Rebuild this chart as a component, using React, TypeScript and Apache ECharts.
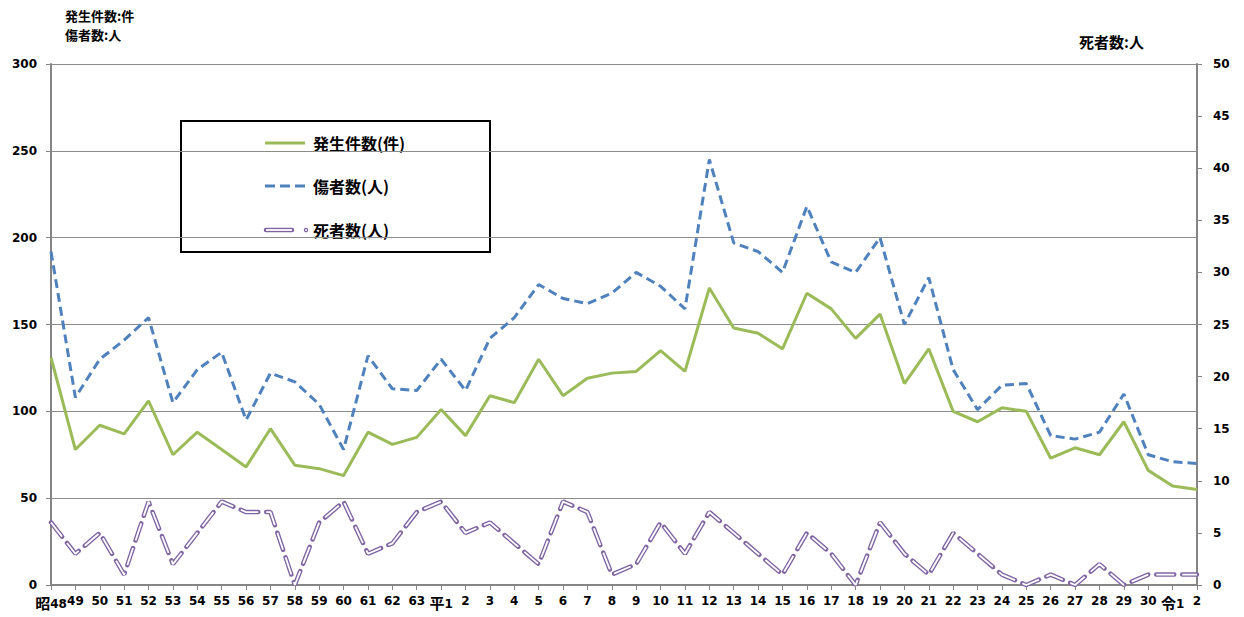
import React, { useEffect, useRef } from "react";
import * as echarts from "echarts";

const categories = [
  "昭48", "49", "50", "51", "52", "53", "54", "55", "56", "57", "58", "59", "60", "61", "62", "63",
  "平1", "2", "3", "4", "5", "6", "7", "8", "9", "10", "11", "12", "13", "14", "15", "16", "17", "18", "19", "20",
  "21", "22", "23", "24", "25", "26", "27", "28", "29", "30", "令1", "2",
];

const incidents = [
  131, 78, 92, 87, 106, 75, 88, 78, 68, 90, 69, 67, 63, 88, 81, 85,
  101, 86, 109, 105, 130, 109, 119, 122, 123, 135, 123, 171, 148, 145, 136, 168, 159, 142, 156, 116,
  136, 100, 94, 102, 100, 73, 79, 75, 94, 66, 57, 55,
];

const injured = [
  192, 108, 130, 141, 154, 105, 124, 134, 95, 122, 117, 104, 78, 132, 113, 112,
  130, 112, 142, 154, 173, 165, 162, 168, 180, 172, 159, 245, 197, 192, 180, 218, 186, 180, 200, 150,
  177, 124, 101, 115, 116, 86, 84, 88, 110, 75, 71, 70,
];

const deaths = [
  6, 3, 5, 1, 8, 2, 5, 8, 7, 7, 0, 6, 8, 3, 4, 7,
  8, 5, 6, 4, 2, 8, 7, 1, 2, 6, 3, 7, 5, 3, 1, 5, 3, 0, 6, 3,
  1, 5, 3, 1, 0, 1, 0, 2, 0, 1, 1, 1,
];

const leftTicks = { min: 0, max: 300, interval: 50 };
const rightTicks = { min: 0, max: 50, interval: 5 };

const seriesNames = ["発生件数(件)", "傷者数(人)", "死者数(人)"];
const unitTitles = ["発生件数:件", "傷者数:人", "死者数:人"];

const GREEN = "#9BBB59";
const BLUE = "#4F81BD";
const PURPLE = "#8064A2";
const FONT = "'DejaVu Sans', 'Noto Sans CJK JP', sans-serif";
const JFONT = "'Noto Sans CJK JP', sans-serif";

export default function App() {
  const ref = useRef<HTMLDivElement>(null);

  useEffect(() => {
    if (!ref.current) return;
    const chart = echarts.init(ref.current, undefined, { renderer: "svg" });
    const axisLabelBase = { color: "#000", fontWeight: "bold" as const, fontSize: 12, fontFamily: FONT };

    chart.setOption({
      animation: false,
      backgroundColor: "#fff",
      grid: { left: 51, right: 47, top: 64, bottom: 32, containLabel: false },
      xAxis: {
        type: "category",
        data: categories,
        boundaryGap: false,
        axisLine: { lineStyle: { color: "#868686", width: 2 } },
        axisTick: { show: true, length: 5, lineStyle: { color: "#868686", width: 1 } },
        axisLabel: {
          ...axisLabelBase,
          interval: 0,
          margin: 10,
          formatter: (v: string) => {
            const m = v.match(/^([^0-9]+)([0-9]+)$/);
            if (m) return `{k|${m[1]}}{n|${m[2]}}`;
            return v;
          },
          rich: {
            k: { fontFamily: JFONT, fontWeight: "bold", fontSize: 15, color: "#000", verticalAlign: "bottom" },
            n: { fontFamily: FONT, fontWeight: "bold", fontSize: 12, color: "#000", verticalAlign: "bottom" },
          },
        },
        splitLine: { show: false },
      },
      yAxis: [
        {
          type: "value",
          ...leftTicks,
          position: "left",
          axisLine: { show: true, lineStyle: { color: "#868686", width: 2 } },
          axisTick: { show: true, length: 5, lineStyle: { color: "#868686" } },
          axisLabel: { ...axisLabelBase, margin: 14 },
          splitLine: { show: true, lineStyle: { color: "#8c8c8c", width: 1 } },
        },
        {
          type: "value",
          ...rightTicks,
          position: "right",
          axisLine: { show: true, lineStyle: { color: "#868686", width: 2 } },
          axisTick: { show: true, length: 5, lineStyle: { color: "#868686" } },
          axisLabel: { ...axisLabelBase, margin: 16 },
          splitLine: { show: false },
        },
      ],
      series: [
        {
          name: seriesNames[0],
          type: "line",
          data: incidents,
          yAxisIndex: 0,
          symbol: "none",
          lineStyle: { color: GREEN, width: 3 },
          z: 3,
        },
        {
          name: seriesNames[1],
          type: "line",
          data: injured,
          yAxisIndex: 0,
          symbol: "none",
          lineStyle: { color: BLUE, width: 3, type: [9, 5] },
          z: 4,
        },
        {
          name: seriesNames[2],
          type: "line",
          data: deaths,
          yAxisIndex: 1,
          symbol: "none",
          lineStyle: { color: PURPLE, width: 4.5, type: [18, 8], cap: "round" },
          z: 5,
        },
        {
          name: seriesNames[2] + "_inner",
          type: "line",
          data: deaths,
          yAxisIndex: 1,
          symbol: "none",
          lineStyle: { color: "#fff", width: 1.8, type: [18, 8], cap: "butt" },
          z: 6,
        },
      ],
      graphic: [
        {
          type: "text",
          left: 65,
          top: 6,
          style: { text: unitTitles[0], font: `bold 13px ${JFONT}`, lineHeight: 19, fill: "#000" },
        },
        {
          type: "text",
          left: 65,
          top: 25,
          style: { text: unitTitles[1], font: `bold 13px ${JFONT}`, lineHeight: 19, fill: "#000" },
        },
        {
          type: "text",
          left: 1079,
          top: 32,
          style: { text: unitTitles[2], font: `bold 15px ${JFONT}`, lineHeight: 18, fill: "#000" },
        },
        {
          type: "group",
          z: 100,
          children: [
            {
              type: "rect",
              shape: { x: 181, y: 121, width: 309, height: 131 },
              style: { fill: "#fff", stroke: "#000", lineWidth: 2 },
            },
            {
              type: "line",
              shape: { x1: 265, y1: 143, x2: 305, y2: 143 },
              style: { stroke: GREEN, lineWidth: 3 },
            },
            {
              type: "text",
              x: 313,
              y: 143,
              style: { text: seriesNames[0], font: `bold 16px ${JFONT}`, fill: "#000", verticalAlign: "middle" },
            },
            {
              type: "line",
              shape: { x1: 265, y1: 186, x2: 305, y2: 186 },
              style: { stroke: BLUE, lineWidth: 3, lineDash: [10, 5] },
            },
            {
              type: "text",
              x: 313,
              y: 186,
              style: { text: seriesNames[1], font: `bold 16px ${JFONT}`, fill: "#000", verticalAlign: "middle" },
            },
            {
              type: "line",
              shape: { x1: 266, y1: 230, x2: 292, y2: 230 },
              style: { stroke: PURPLE, lineWidth: 4.5, lineCap: "round" },
            },
            {
              type: "line",
              shape: { x1: 266, y1: 230, x2: 292, y2: 230 },
              style: { stroke: "#fff", lineWidth: 1.8 },
            },
            {
              type: "circle",
              shape: { cx: 306, cy: 230, r: 1.6 },
              style: { fill: "#fff", stroke: PURPLE, lineWidth: 1.2 },
            },
            {
              type: "text",
              x: 313,
              y: 230,
              style: { text: seriesNames[2], font: `bold 16px ${JFONT}`, fill: "#000", verticalAlign: "middle" },
            },
          ],
        },
      ],
    });

    return () => chart.dispose();
  }, []);

  return (
    <div
      ref={ref}
      style={{ position: "fixed", left: 0, top: 0, width: 1244, height: 617, background: "#fff" }}
    />
  );
}
